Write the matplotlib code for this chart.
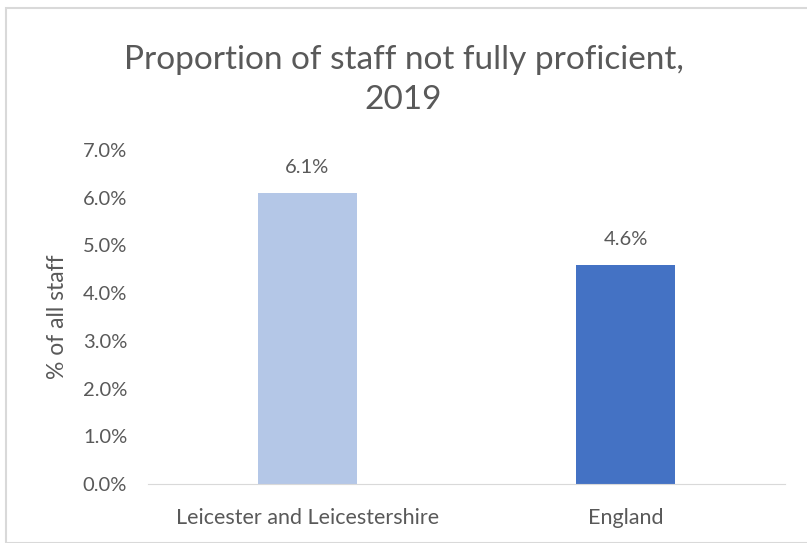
import matplotlib.pyplot as plt
from matplotlib.patches import Rectangle
from matplotlib.ticker import FuncFormatter

# Share of staff not fully proficient, 2019
areas = ['Leicester and Leicestershire', 'England']
pct_not_proficient = [6.1, 4.6]
bar_colors = ['#B4C7E7', '#4472C4']
y_ticks = [0, 1, 2, 3, 4, 5, 6, 7]

text_color = '#595959'
plt.rcParams['font.family'] = ['Lato', 'DejaVu Sans']

fig = plt.figure(figsize=(8.07, 5.43), dpi=100)
W, H = 807, 543

# light chart-area frame
fig.patches.append(Rectangle((6 / W, 0), 1, 1 - 8 / H, transform=fig.transFigure,
                             fill=False, edgecolor='#D9D9D9', linewidth=1.5))

ax = fig.add_axes([148 / W, 59 / H, 637 / W, 334 / H])
x = range(len(areas))
bars = ax.bar(x, pct_not_proficient, width=0.31, color=bar_colors)

ax.set_xlim(-0.5, 1.5)
ax.set_ylim(0, 7)
ax.set_yticks(y_ticks)
ax.yaxis.set_major_formatter(FuncFormatter(lambda v, _: f'{v:.1f}%'))
ax.set_xticks(list(x))
ax.set_xticklabels(areas)
ax.tick_params(axis='both', length=0, colors=text_color, labelsize=14.5)
ax.tick_params(axis='x', pad=17, labelsize=15.5)
ax.tick_params(axis='y', pad=15)

for side in ['top', 'right', 'left']:
    ax.spines[side].set_visible(False)
ax.spines['bottom'].set_color('#D9D9D9')

ax.set_ylabel('% of all staff', color=text_color, fontsize=16.5, labelpad=11)

for bar, v in zip(bars, pct_not_proficient):
    ax.annotate(f'{v:.1f}%', (bar.get_x() + bar.get_width() / 2, v),
                xytext=(0, 12), textcoords='offset points', ha='center',
                va='bottom', color=text_color, fontsize=14.5)

fig.text(0.5, 1 - 60 / H, 'Proportion of staff not fully proficient,',
         ha='center', va='center', color=text_color, fontsize=24)
fig.text(0.5, 1 - 100 / H, '2019', ha='center', va='center',
         color=text_color, fontsize=24)

fig.savefig('out.png', dpi=100)
